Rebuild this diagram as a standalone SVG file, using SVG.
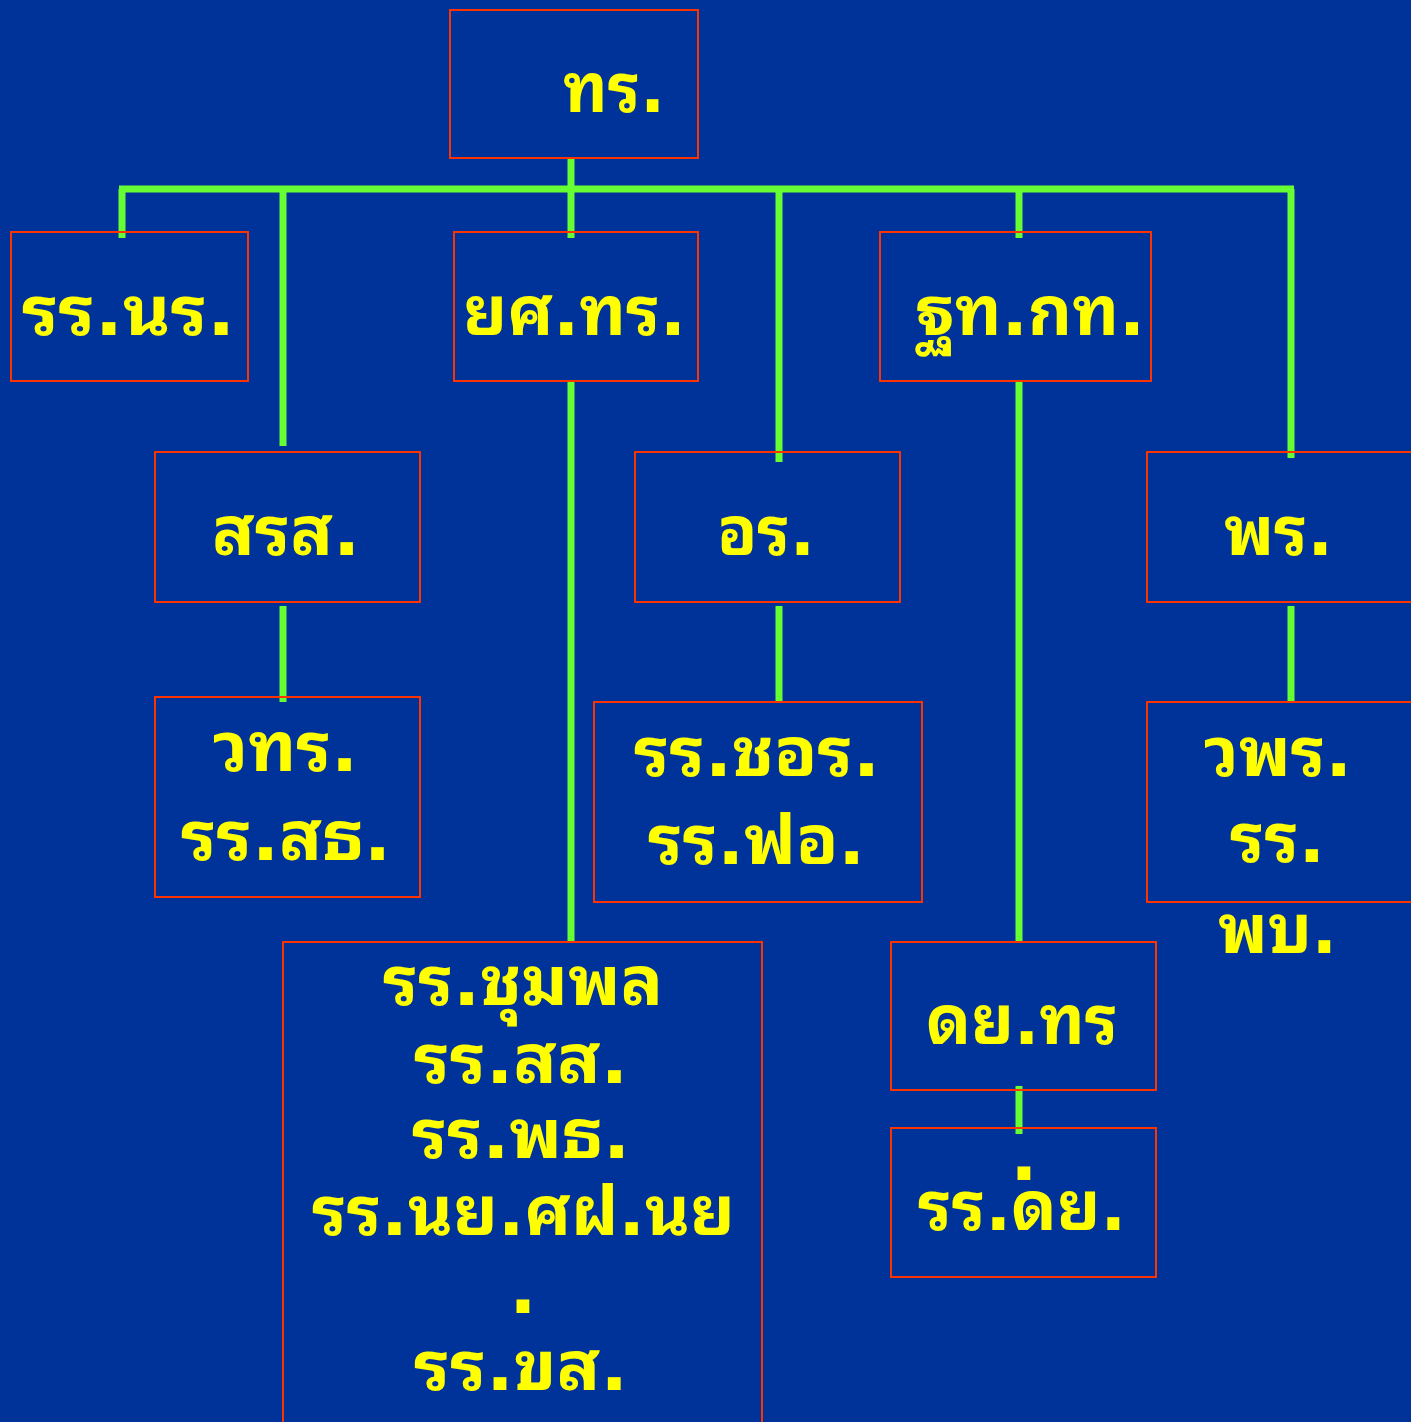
<svg xmlns="http://www.w3.org/2000/svg" width="1411" height="1422" viewBox="0 0 1411 1422">
<style>
.bg{fill:#003399}
.box{fill:none;stroke:#FF3300;stroke-width:2}
.t{font-family:"DejaVu Sans","Noto Sans Thai Looped","Loma","Garuda","Noto Sans Thai","Noto Sans",sans-serif;font-weight:bold;font-size:68px;fill:#FFFF00;text-anchor:middle}
.d{font-family:"DejaVu Sans",sans-serif;font-weight:bold;font-size:72px;fill:#FFFF00;text-anchor:middle}
.c{stroke:#66FF33;stroke-width:7;fill:none}
</style>
<rect class="bg" x="0" y="0" width="1411" height="1422"/>
<g id="connectors">
<line class="c" x1="571" y1="158" x2="571" y2="189"/>
<line class="c" x1="119" y1="189" x2="1294" y2="189"/>
<line class="c" x1="122" y1="189" x2="122" y2="238"/>
<line class="c" x1="283" y1="189" x2="283" y2="446"/>
<line class="c" x1="571" y1="189" x2="571" y2="238"/>
<line class="c" x1="779" y1="189" x2="779" y2="462"/>
<line class="c" x1="1019" y1="189" x2="1019" y2="238"/>
<line class="c" x1="1291" y1="189" x2="1291" y2="458"/>
<line class="c" x1="571" y1="381" x2="571" y2="942"/>
<line class="c" x1="1019" y1="381" x2="1019" y2="942"/>
<line class="c" x1="283" y1="606" x2="283" y2="702"/>
<line class="c" x1="779" y1="606" x2="779" y2="702"/>
<line class="c" x1="1291" y1="606" x2="1291" y2="702"/>
<line class="c" x1="1019" y1="1086" x2="1019" y2="1134"/>
</g>
<g id="n-thr">
<rect class="box" x="450" y="10" width="248" height="148"/>
<text class="t" x="614" y="112" textLength="102" lengthAdjust="spacingAndGlyphs">ทร.</text>
</g>
<g id="n-rrnr">
<rect class="box" x="11" y="232" width="237" height="149"/>
<text class="t" x="128.5" y="335" textLength="213" lengthAdjust="spacingAndGlyphs">รร.นร.</text>
</g>
<g id="n-yst">
<rect class="box" x="454" y="232" width="244" height="149"/>
<text class="t" x="574.5" y="335" textLength="223" lengthAdjust="spacingAndGlyphs">ยศ.ทร.</text>
</g>
<g id="n-tkt">
<rect class="box" x="880" y="232" width="271" height="149"/>
<text class="t" x="1030" y="335" textLength="230" lengthAdjust="spacingAndGlyphs">ฐท.กท.</text>
</g>
<g id="n-srs">
<rect class="box" x="155" y="452" width="265" height="150"/>
<text class="t" x="286" y="555" textLength="148" lengthAdjust="spacingAndGlyphs">สรส.</text>
</g>
<g id="n-or">
<rect class="box" x="635" y="452" width="265" height="150"/>
<text class="t" x="766" y="555" textLength="98" lengthAdjust="spacingAndGlyphs">อร.</text>
</g>
<g id="n-pr">
<rect class="box" x="1147" y="452" width="270" height="150"/>
<text class="t" x="1278.5" y="555" textLength="109" lengthAdjust="spacingAndGlyphs">พร.</text>
</g>
<g id="n-wtr">
<rect class="box" x="155" y="697" width="265" height="200"/>
<text class="t" x="285.5" y="771" textLength="145" lengthAdjust="spacingAndGlyphs">วทร.</text>
<text class="t" x="286" y="860" textLength="210" lengthAdjust="spacingAndGlyphs">รร.สธ.</text>
</g>
<g id="n-chor">
<rect class="box" x="594" y="702" width="328" height="200"/>
<text class="t" x="757" y="776" textLength="246" lengthAdjust="spacingAndGlyphs">รร.ชอร.</text>
<text class="t" x="756.5" y="864" textLength="217" lengthAdjust="spacingAndGlyphs">รร.ฟอ.</text>
</g>
<g id="n-wpr">
<rect class="box" x="1147" y="702" width="270" height="200"/>
<text class="t" x="1278" y="776" textLength="148" lengthAdjust="spacingAndGlyphs">วพร.</text>
<text class="t" x="1277.5" y="862" textLength="95" lengthAdjust="spacingAndGlyphs">รร.</text>
<text class="t" x="1277.5" y="953" textLength="119" lengthAdjust="spacingAndGlyphs">พบ.</text>
</g>
<g id="n-chumphon">
<rect class="box" x="283" y="942" width="479" height="490"/>
<text class="t" x="523" y="1005" textLength="280" lengthAdjust="spacingAndGlyphs">รร.ชุมพล</text>
<text class="t" x="521" y="1083" textLength="214" lengthAdjust="spacingAndGlyphs">รร.สส.</text>
<text class="t" x="521" y="1158" textLength="218" lengthAdjust="spacingAndGlyphs">รร.พธ.</text>
<text class="t" x="523.5" y="1235" textLength="423" lengthAdjust="spacingAndGlyphs">รร.นย.ศฝ.นย</text>
<text class="d" x="523" y="1313">.</text>
<text class="t" x="521" y="1390" textLength="214" lengthAdjust="spacingAndGlyphs">รร.ขส.</text>
</g>
<g id="n-dytr">
<rect class="box" x="891" y="942" width="265" height="148"/>
<text class="t" x="1022" y="1044" textLength="192" lengthAdjust="spacingAndGlyphs">ดย.ทร</text>
</g>
<g id="n-rrdy">
<rect class="box" x="891" y="1128" width="265" height="149"/>
<text class="d" x="1024" y="1180">.</text>
<text class="t" x="1022" y="1230" textLength="208" lengthAdjust="spacingAndGlyphs">รร.ดย.</text>
</g>
</svg>
